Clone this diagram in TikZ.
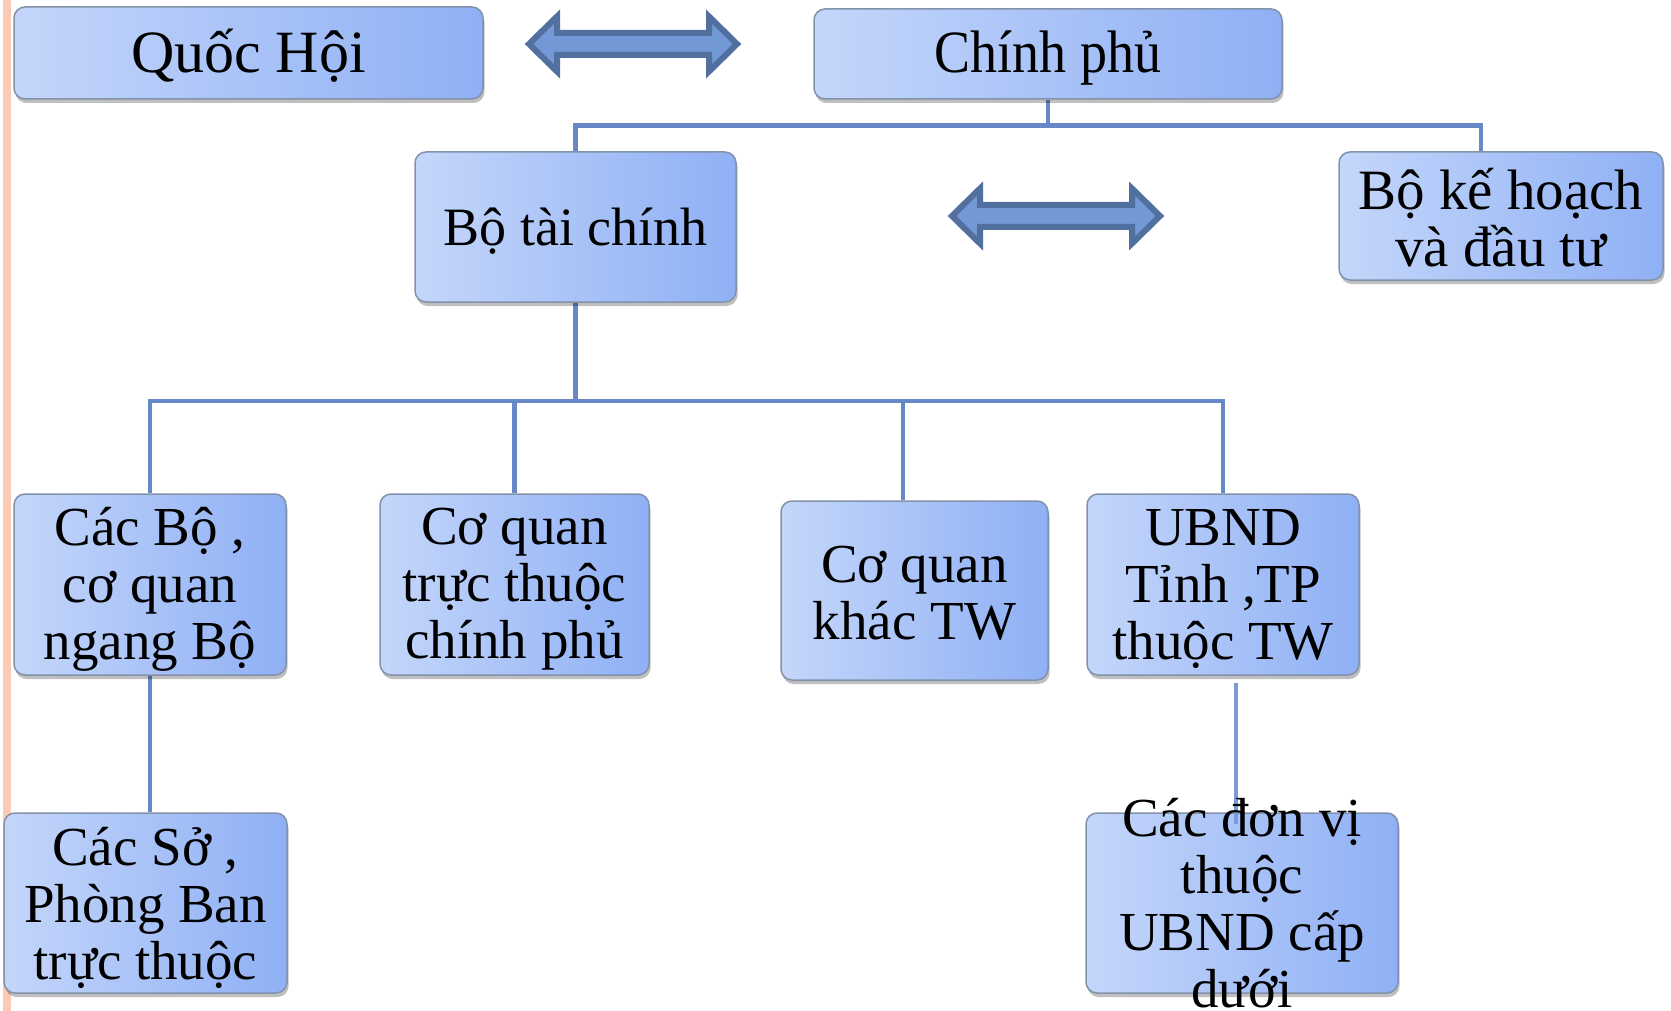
\documentclass[tikz,border=0pt]{standalone}
\usepackage{fontspec}
\usepackage{graphicx}
\setmainfont{Liberation Serif}
\usetikzlibrary{shadows,calc,backgrounds}
\definecolor{boxL}{HTML}{C4D6FA}
\definecolor{boxM}{HTML}{BCD0F9}
\definecolor{boxR}{HTML}{8FB0F5}
\definecolor{boxD}{HTML}{8392AB}
\definecolor{connC}{HTML}{6788C6}
\definecolor{connL}{HTML}{7A9AD8}
\definecolor{arrF}{HTML}{7299D6}
\definecolor{arrD}{HTML}{52709F}
\definecolor{stripC}{HTML}{FBCAB4}
\tikzset{
  orgbox/.style={draw=boxD, line width=1.5pt, rounded corners=11pt,
    left color=boxL, middle color=boxM, right color=boxR, inner sep=0pt,
    drop shadow={shadow xshift=1.5pt, shadow yshift=-4pt, opacity=0.25, fill=black}},
  boxtext/.style={align=center, inner sep=0pt, font=\fontsize{55}{57}\selectfont},
  conn/.style={draw=connC, line width=4.5pt},
  blockarrow/.style={fill=arrF, draw=arrD, line width=6pt, line join=miter},
  dblarr/.pic={
    \draw[blockarrow] (-104,0) -- (-76,-27.5) -- (-76,-11) -- (76,-11) -- (76,-27.5)
      -- (104,0) -- (76,27.5) -- (76,11) -- (-76,11) -- (-76,27.5) -- cycle;
  }
}
\begin{document}
\begin{tikzpicture}[x=1pt,y=-1pt]
\useasboundingbox (0,0) rectangle (1671,1011);

% boxes
\node[orgbox, minimum width=469pt, minimum height=92pt] (QH) at (248.5,53) {};
\node[orgbox, minimum width=468pt, minimum height=90pt] (CP) at (1048,54) {};
\node[orgbox, minimum width=321pt, minimum height=150pt] (BTC) at (575.5,227) {};
\node[orgbox, minimum width=324pt, minimum height=128pt] (BKH) at (1501,216) {};
\node[orgbox, minimum width=272pt, minimum height=181pt] (CB) at (150,584.5) {};
\node[orgbox, minimum width=269pt, minimum height=181pt] (CQTT) at (514.5,584.5) {};
\node[orgbox, minimum width=267pt, minimum height=179pt] (CQK) at (914.5,590.5) {};
\node[orgbox, minimum width=272pt, minimum height=181pt] (UB) at (1223,584.5) {};
\node[orgbox, minimum width=283pt, minimum height=180pt] (CS) at (145.5,903) {};
\node[orgbox, minimum width=312pt, minimum height=180pt] (CDV) at (1242,903) {};

% connectors, behind the boxes
\begin{scope}[on background layer]
\fill[stripC] (3,0) rectangle (11,1011);
\coordinate (j1) at ($(CP.south)+(0,26)$);
\coordinate (j2) at ($(BTC.south)+(0,98)$);
\draw[conn] (CP.south) -- (j1);
\draw[conn] (BTC.north) |- (j1) -| ($(BKH.north west)!0.438!(BKH.north east)$);
\draw[conn] (BTC.south) -- (j2);
\draw[conn] (CB.north) |- (j2) -| (UB.north);
\draw[conn] (CQTT.north) -- (CQTT.north |- j2);
\draw[conn] ($(CQK.north west)!0.457!(CQK.north east)$) -- +(0,-101);
\draw[conn] (CB.south) -- (CB.south |- CS.north);
\end{scope}

% block arrows
\pic at (633,44) {dblarr};
\pic at (1056,216) {dblarr};

\draw[connL, line width=4pt] ([xshift=13pt,yshift=-7pt]UB.south) -- ([xshift=-6pt,yshift=-12pt]CDV.north);

% texts
\node[boxtext, font=\fontsize{60}{62}\selectfont] (QHt) at ([yshift=-3pt]QH.center) {Quốc Hội};
\node[boxtext, font=\fontsize{60}{62}\selectfont] (CPt) at ([yshift=-4pt]CP.center) {\scalebox{0.9}[1]{Chính phủ}};
\node[boxtext, font=\fontsize{54}{57}\selectfont] (BTCt) at ([yshift=-4pt]BTC.center) {Bộ tài chính};
\node[boxtext, font=\fontsize{57}{57}\selectfont] (BKHt) at ([yshift=-2pt]BKH.center) {Bộ kế hoạch\\và đầu tư};
\node[boxtext] (CBt) at ([yshift=-5pt]CB.center) {Các Bộ ,\\cơ quan\\ngang Bộ};
\node[boxtext] (CQTTt) at ([yshift=-5pt]CQTT.center) {Cơ quan\\trực thuộc\\chính phủ};
\node[boxtext] (CQKt) at ([yshift=-3pt]CQK.center) {Cơ quan\\khác TW};
\node[boxtext] (UBt) at ([yshift=-5pt]UB.center) {UBND\\Tỉnh ,TP\\thuộc TW};
\node[boxtext] (CSt) at ([yshift=-5pt]CS.center) {Các Sở ,\\Phòng Ban\\trực thuộc};
\node[boxtext] (CDVt) at (CDV.center) {Các đơn vị\\thuộc\\UBND cấp\\dưới};
\end{tikzpicture}
\end{document}
